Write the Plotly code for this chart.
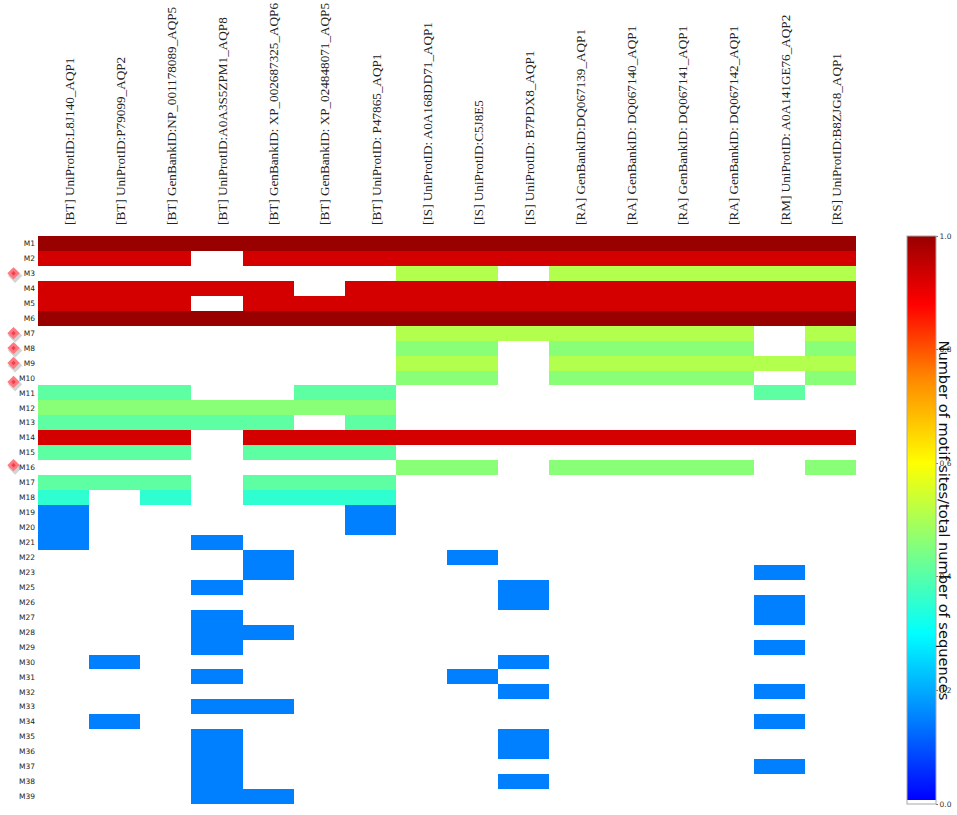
import plotly.graph_objects as go

sequences = [
    "[BT] UniProtID:L8J140_AQP1",
    "[BT] UniProtID:P79099_AQP2",
    "[BT] GenBankID:NP_001178089_AQP5",
    "[BT] UniProtID:A0A3S5ZPM1_AQP8",
    "[BT] GenBankID: XP_002687325_AQP6",
    "[BT] GenBankID: XP_024848071_AQP5",
    "[BT] UniProtID: P47865_AQP1",
    "[IS] UniProtID: A0A168DD71_AQP1",
    "[IS] UniProtID:C5J8E5",
    "[IS] UniProtID: B7PDX8_AQP1",
    "[RA] GenBankID:DQ067139_AQP1",
    "[RA] GenBankID: DQ067140_AQP1",
    "[RA] GenBankID: DQ067141_AQP1",
    "[RA] GenBankID: DQ067142_AQP1",
    "[RM] UniProtID: A0A141GE76_AQP2",
    "[RS] UniProtID:B8ZJG8_AQP1",
]

motifs = [f"M{n}" for n in range(1, 24)] + [f"M{n}" for n in range(25, 40)]

# each row is one motif, each column one sequence
frequency = [
    [1.0, 1.0, 1.0, 1.0, 1.0, 1.0, 1.0, 1.0, 1.0, 1.0, 1.0, 1.0, 1.0, 1.0, 1.0, 1.0],
    [.93, .93, .93, 0, .93, .93, .93, .93, .93, .93, .93, .93, .93, .93, .93, .93],
    [0, 0, 0, 0, 0, 0, 0, .51, .51, 0, .51, .51, .51, .51, .51, .51],
    [.93, .93, .93, .93, .93, 0, .93, .93, .93, .93, .93, .93, .93, .93, .93, .93],
    [.93, .93, .93, 0, .93, .93, .93, .93, .93, .93, .93, .93, .93, .93, .93, .93],
    [1.0, 1.0, 1.0, 1.0, 1.0, 1.0, 1.0, 1.0, 1.0, 1.0, 1.0, 1.0, 1.0, 1.0, 1.0, 1.0],
    [0, 0, 0, 0, 0, 0, 0, .51, .51, .51, .51, .51, .51, .51, 0, .51],
    [0, 0, 0, 0, 0, 0, 0, .46, .46, 0, .46, .46, .46, .46, 0, .46],
    [0, 0, 0, 0, 0, 0, 0, .51, .51, 0, .51, .51, .51, .51, .51, .51],
    [0, 0, 0, 0, 0, 0, 0, .46, .46, 0, .46, .46, .46, .46, 0, .46],
    [.41, .41, .41, 0, 0, .41, .41, 0, 0, 0, 0, 0, 0, 0, .41, 0],
    [.46, .46, .46, .46, .46, .46, .46, 0, 0, 0, 0, 0, 0, 0, 0, 0],
    [.41, .41, .41, .41, .41, 0, .41, 0, 0, 0, 0, 0, 0, 0, 0, 0],
    [.93, .93, .93, 0, .93, .93, .93, .93, .93, .93, .93, .93, .93, .93, .93, .93],
    [.41, .41, .41, 0, .41, .41, .41, 0, 0, 0, 0, 0, 0, 0, 0, 0],
    [0, 0, 0, 0, 0, 0, 0, .46, .46, 0, .46, .46, .46, .46, 0, .46],
    [.41, .41, .41, 0, .41, .41, .41, 0, 0, 0, 0, 0, 0, 0, 0, 0],
    [.355, 0, .355, 0, .355, .355, .355, 0, 0, 0, 0, 0, 0, 0, 0, 0],
    [.15, 0, 0, 0, 0, 0, .15, 0, 0, 0, 0, 0, 0, 0, 0, 0],
    [.15, 0, 0, 0, 0, 0, .15, 0, 0, 0, 0, 0, 0, 0, 0, 0],
    [.15, 0, 0, .15, 0, 0, 0, 0, 0, 0, 0, 0, 0, 0, 0, 0],
    [0, 0, 0, 0, .15, 0, 0, 0, .15, 0, 0, 0, 0, 0, 0, 0],
    [0, 0, 0, 0, .15, 0, 0, 0, 0, 0, 0, 0, 0, 0, .15, 0],
    [0, 0, 0, .15, 0, 0, 0, 0, 0, .15, 0, 0, 0, 0, 0, 0],
    [0, 0, 0, 0, 0, 0, 0, 0, 0, .15, 0, 0, 0, 0, .15, 0],
    [0, 0, 0, .15, 0, 0, 0, 0, 0, 0, 0, 0, 0, 0, .15, 0],
    [0, 0, 0, .15, .15, 0, 0, 0, 0, 0, 0, 0, 0, 0, 0, 0],
    [0, 0, 0, .15, 0, 0, 0, 0, 0, 0, 0, 0, 0, 0, .15, 0],
    [0, .15, 0, 0, 0, 0, 0, 0, 0, .15, 0, 0, 0, 0, 0, 0],
    [0, 0, 0, .15, 0, 0, 0, 0, .15, 0, 0, 0, 0, 0, 0, 0],
    [0, 0, 0, 0, 0, 0, 0, 0, 0, .15, 0, 0, 0, 0, .15, 0],
    [0, 0, 0, .15, .15, 0, 0, 0, 0, 0, 0, 0, 0, 0, 0, 0],
    [0, .15, 0, 0, 0, 0, 0, 0, 0, 0, 0, 0, 0, 0, .15, 0],
    [0, 0, 0, .15, 0, 0, 0, 0, 0, .15, 0, 0, 0, 0, 0, 0],
    [0, 0, 0, .15, 0, 0, 0, 0, 0, .15, 0, 0, 0, 0, 0, 0],
    [0, 0, 0, .15, 0, 0, 0, 0, 0, 0, 0, 0, 0, 0, .15, 0],
    [0, 0, 0, .15, 0, 0, 0, 0, 0, .15, 0, 0, 0, 0, 0, 0],
    [0, 0, 0, .15, .15, 0, 0, 0, 0, 0, 0, 0, 0, 0, 0, 0],
]

# red diamonds left of the row labels, the last two sit a bit off their rows
flag_rows = [2, 6, 7, 8, 9.26, 14.83]
flag_column = 13.5

colorbar_ticks = [0.0, 0.2, 0.4, 0.6, 0.8, 1.0]
colorbar_labels = ["0.0", "0.2", "0.4", "0.6", "0.8", "1.0"]

jet_scale = [
    [0.0, "#ffffff"],
    [0.007, "#ffffff"],
    [0.007, "#0000ff"],
    [0.15, "#0080ff"],
    [0.3, "#00ffff"],
    [0.45, "#80ff80"],
    [0.6, "#ffff00"],
    [0.75, "#ff8800"],
    [0.88, "#ff0000"],
    [1.0, "#990000"],
]


def main() -> None:
    columns = list(range(len(sequences)))
    rows = list(range(len(motifs)))

    fig = go.Figure()
    fig.add_trace(
        go.Heatmap(
            z=frequency,
            x=columns,
            y=rows,
            zmin=0,
            zmax=1,
            colorscale=jet_scale,
            colorbar=dict(
                x=1.0596,
                xanchor="left",
                y=0.5,
                yanchor="middle",
                thickness=29,
                thicknessmode="pixels",
                len=568,
                lenmode="pixels",
                xpad=0,
                ypad=0,
                outlinecolor="#a8a8a8",
                outlinewidth=1,
                tickvals=colorbar_ticks,
                ticktext=colorbar_labels,
                ticks="outside",
                ticklen=2,
                tickcolor="#777777",
                tickfont=dict(family="DejaVu Sans", size=7.5, color="#333333"),
            ),
        )
    )

    # shadow, body and centre of the diamonds, on a narrow axis of their own
    # because plotly hides markers that fall outside the heatmap's range
    marker_x = [flag_column] * len(flag_rows)
    fig.add_trace(
        go.Scatter(
            x=[flag_column + 1.6] * len(flag_rows),
            y=[r + 0.16 for r in flag_rows],
            xaxis="x2",
            mode="markers",
            marker=dict(symbol="diamond", size=11, color="rgba(110,110,110,0.3)"),
            showlegend=False,
        )
    )
    fig.add_trace(
        go.Scatter(
            x=marker_x,
            y=flag_rows,
            xaxis="x2",
            mode="markers",
            marker=dict(symbol="diamond", size=9.5, color="#ff7a80"),
            showlegend=False,
        )
    )
    fig.add_trace(
        go.Scatter(
            x=marker_x,
            y=flag_rows,
            xaxis="x2",
            mode="markers",
            marker=dict(symbol="diamond", size=3.5, color="#f04050"),
            showlegend=False,
        )
    )

    fig.update_layout(
        width=957,
        height=815,
        margin=dict(l=0, r=101, t=236, b=11, autoexpand=False),
        plot_bgcolor="white",
        paper_bgcolor="white",
        xaxis=dict(
            domain=[38 / 856, 1],
            range=[-0.5, len(sequences) - 0.5],
            side="top",
            tickvals=columns,
            ticktext=sequences,
            tickangle=-90,
            ticks="",
            ticklabelshift=6,
            ticklabelstandoff=10,
            tickfont=dict(family="Liberation Serif", size=13.2, color="#222222"),
            showgrid=False,
            zeroline=False,
            showline=False,
        ),
        xaxis2=dict(domain=[0, 38 / 856], range=[0, 38], visible=False),
        yaxis=dict(
            range=[len(motifs) - 0.5, -0.5],
            tickvals=rows,
            ticktext=motifs,
            ticks="",
            ticklabelstandoff=2,
            tickfont=dict(family="DejaVu Sans", size=7.5, color="#222222"),
            showgrid=False,
            zeroline=False,
            showline=False,
        ),
        annotations=[
            dict(
                text="Number of motif sites/total number of sequences",
                xref="paper",
                yref="paper",
                x=1.1034,
                y=0.5,
                xanchor="center",
                yanchor="middle",
                textangle=90,
                showarrow=False,
                font=dict(family="DejaVu Sans", size=14.6, color="#111111"),
            )
        ],
    )

    fig.write_html(
        "out.html",
        config={"displayModeBar": False},
        post_script="document.body.style.margin = '0';",
    )


if __name__ == "__main__":
    main()
